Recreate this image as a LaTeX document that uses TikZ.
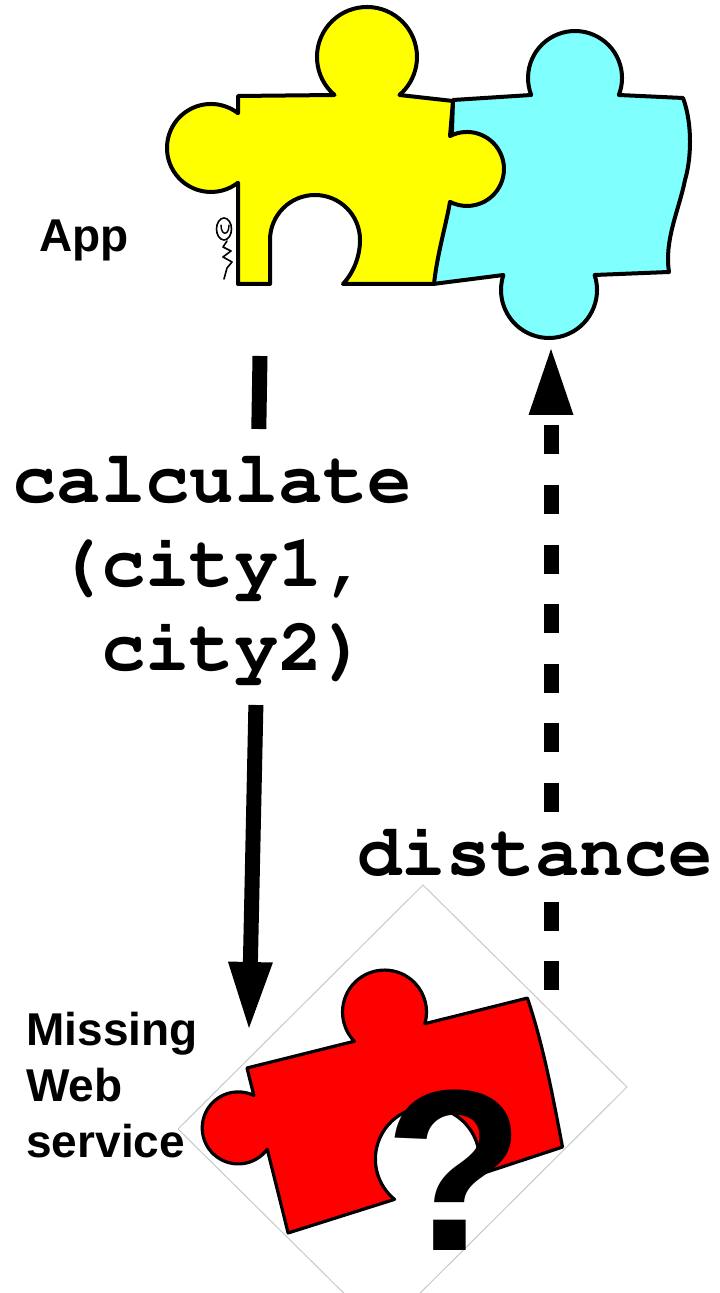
\documentclass[tikz,border=0pt]{standalone}
\usepackage{fontspec}
\setmainfont{Liberation Sans}
\setsansfont{Liberation Sans}
\setmonofont{Liberation Mono}
\usetikzlibrary{arrows.meta}
\definecolor{pieceyellow}{RGB}{255,255,0}
\definecolor{piececyan}{RGB}{128,255,255}
\definecolor{piecered}{RGB}{255,0,0}
\definecolor{framegray}{RGB}{200,200,200}
% bold Courier for the code labels
\newcommand{\codefont}{\fontencoding{OT1}\fontfamily{pcr}\fontseries{b}\fontshape{n}\fontsize{37}{42}\selectfont}

\begin{document}
\begin{tikzpicture}[x=0.5pt,y=-0.5pt,
  piece/.style={draw=black,line width=2pt,line join=round},
  redpiece/.style={draw=black,line width=1.6pt,line join=round,fill=piecered},
  bigtip/.style={-{Triangle[length=33pt,width=22.5pt,line width=0pt]}},
  callline/.style={line width=7.5pt},
  callarrow/.style={callline,bigtip},
  returnarrow/.style={line width=7.5pt,dash pattern=on 14.5pt off 15.25pt,bigtip},
  codelabel/.style={font=\codefont,inner sep=0pt},
  sidelabel/.style={font=\fontsize{23}{28}\selectfont\bfseries,inner sep=0pt},
  doodle/.style={line width=0.8pt,line cap=round,line join=round}
]
\useasboundingbox (0,0) rectangle (719,1293);
\clip (0,0) rectangle (719,1293);

% --- the application: cyan piece, then the yellow piece fitted into it
\path[piece,fill=piececyan]
  (453,100) -- (531.2,95) arc[start angle=158.8,end angle=381.2,radius=47]
  -- (683,98) .. controls (693,125) and (691,160) .. (685,180)
  .. controls (679,210) and (664,240) .. (669,272)
  -- (594.6,275) arc[start angle=-18.2,end angle=198.2,radius=48]
  -- (433,284) .. controls (437,250) and (447,215) .. (450,190) -- cycle;

\path[piece,fill=pieceyellow]
  (238,96) -- (334.5,95) arc[start angle=130.5,end angle=409.5,radius=50]
  -- (453,101) -- (450,136.1) arc[start angle=-117.3,end angle=117.3,radius=37]
  .. controls (446,225) and (437,255) .. (434,284)
  -- (343,284) .. controls (354,272) and (360,256) .. (360,240)
  arc[start angle=0,end angle=-180,radius=45]
  -- (270,284) -- (238,284) -- (238,182.7)
  arc[start angle=52.1,end angle=307.9,radius=44] -- cycle;

% little figure peeking round the yellow piece
\draw[doodle] (224,229) ellipse [x radius=7.5,y radius=11];
\draw[doodle,line width=0.7pt] (221,225) .. controls (221,236) and (229,236) .. (229,225);
\draw[doodle] (227,241) -- (223,247) -- (231,251) -- (223,257) -- (232,262) -- (227,268) -- (224,279);

\node[sidelabel,anchor=base west] (app) at (39,252) {App};

% --- request: calculate(city1, city2)
\coordinate (appout) at (260,356);
\coordinate (labtop) at (258.8,429);
\coordinate (labbot) at (255.9,705);
\coordinate (svcin)  at (249,1028);
\draw[callline]  (appout) -- (labtop);
\draw[callarrow] (labbot) -- (svcin);
\node[codelabel,align=center,anchor=north] (call) at (212,455)
  {calculate\\(city1,\\\phantom{(}city2)};

% --- response: distance
\coordinate (svcout) at (551,990);
\coordinate (appin)  at (551,349);
\draw[returnarrow] (svcout) -- (appin);
\node[codelabel,anchor=base,fill=white,inner xsep=3pt,inner ysep=6pt] (dist) at (535,875) {distance};

% --- the missing web service
\draw[framegray,line width=0.5pt] (423,885) -- (627,1087) -- (382,1331) -- (178,1129) -- cycle;

\begin{scope}[shift={(247,1068)},rotate=14]
  \path[redpiece]
    (0,0) -- (110.6,0) arc[start angle=150,end angle=390,radius=42]
    -- (289,0) .. controls (293,50) and (290,100) .. (287,153)
    -- (197,159.7) arc[start angle=32.2,end angle=-216.8,radius=52]
    -- (0,170) -- (0,83.7) arc[start angle=50.3,end angle=309.7,radius=36] -- cycle;
\end{scope}

\node[font=\fontsize{115}{115}\selectfont\bfseries,anchor=base,inner sep=0pt] (qmark) at (455,1250) {?};

\node[sidelabel,anchor=north west,align=left] (missing) at (26,1012) {Missing\\Web\\service};
\end{tikzpicture}
\end{document}
